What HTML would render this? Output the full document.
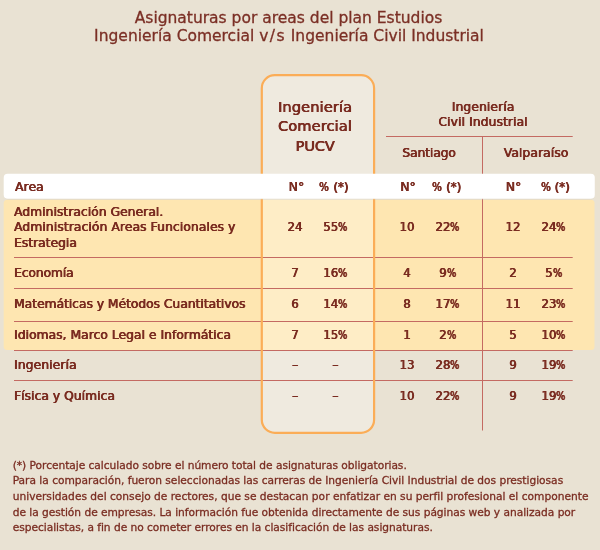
<!DOCTYPE html>
<html lang="es">
<head>
<meta charset="utf-8">
<title>Asignaturas por areas del plan Estudios</title>
<style>
html,body{margin:0;padding:0;}
body{width:600px;height:550px;position:relative;overflow:hidden;background:#e9e2d3;color:#7a2c21;
  font-family:"DejaVu Sans","Liberation Sans",sans-serif;}
.abs{position:absolute;}
.title{left:0;width:577px;top:9px;text-align:center;font-size:15.5px;line-height:18.25px;color:#7b2f25;white-space:nowrap;-webkit-text-stroke:0.3px #7b2f25;}
.b{font-family:"DejaVu Sans","Liberation Sans",sans-serif;font-weight:normal;text-shadow:0.5px 0 0 #7a2c21,-0.2px 0 0 #7a2c21;font-size:12.3px;letter-spacing:0.1px;white-space:nowrap;line-height:15.5px;}
.pc{display:inline-block;transform:scaleX(.84);transform-origin:0 50%;margin-right:-1.9px;}
.n{font-size:11.6px;letter-spacing:0.15px;text-shadow:0.55px 0 0 #7a2c21,-0.2px 0 0 #7a2c21;}
.c{text-align:center;width:60px;margin-left:-30px;}
.foot{left:12.7px;top:457.5px;-webkit-text-stroke:0.3px #7a2c21;font-size:10.65px;line-height:15.67px;white-space:nowrap;color:#7a2c21;}
</style>
</head>
<body>
<div class="abs title">Asignaturas por areas del plan Estudios</div>
<div class="abs title" style="top:27.25px;left:0.5px">Ingeniería Comercial <span style="letter-spacing:1.4px">v/s</span> Ingeniería Civil Industrial</div>

<svg class="abs" style="left:0;top:0" width="600" height="550" viewBox="0 0 600 550">
<rect x="3.7" y="199.7" width="590.8" height="150.3" rx="3.5" fill="#fee6b1"/>
<rect x="261.8" y="75.2" width="112.3" height="357.6" rx="13" fill="rgba(255,255,255,0.28)"/>
<g fill="#c46a62">
<rect x="14" y="257" width="558.7" height="1"/>
<rect x="14" y="288" width="558.7" height="1"/>
<rect x="14" y="321" width="558.7" height="1"/>
<rect x="14" y="350" width="558.7" height="1"/>
<rect x="14" y="380" width="558.7" height="1"/>
<rect x="386" y="136" width="186.7" height="1"/>
<rect x="482" y="136" width="1" height="294.5"/>
</g>
<rect x="261.8" y="75.2" width="112.3" height="357.6" rx="13" fill="none" stroke="#fbad57" stroke-width="2.2"/>
<rect x="4.2" y="175" width="590.1" height="24.6" rx="4" fill="#d9d0bc" opacity="0.6"/>
<rect x="3.7" y="173.7" width="591.1" height="25.1" rx="4" fill="#fff"/>
</svg>

<div class="abs b" style="left:255px;width:120px;top:98px;text-align:center;font-size:14.5px;letter-spacing:0.15px;line-height:19px;">Ingeniería<br>Comercial<br><span style="position:relative;top:1px;letter-spacing:-0.1px">PUCV</span></div>
<div class="abs b" style="left:423px;width:120px;top:99.5px;text-align:center;line-height:15.4px;">Ingeniería<br>Civil Industrial</div>
<div class="abs b c" style="left:429px;top:146px;letter-spacing:-0.1px;">Santiago</div>
<div class="abs b c" style="left:536px;top:146px;width:80px;margin-left:-40px;">Valparaíso</div>

<div class="abs b" style="left:15px;top:180px;">Area</div>
<div class="abs b c" style="left:296.4px;top:180px;">N°</div>
<div class="abs b c" style="left:333.75px;top:180px;"><span class="pc">%</span> <span style="letter-spacing:-0.3px">(*)</span></div>
<div class="abs b c" style="left:408px;top:180px;">N°</div>
<div class="abs b c" style="left:446.5px;top:180px;"><span class="pc">%</span> <span style="letter-spacing:-0.3px">(*)</span></div>
<div class="abs b c" style="left:513.5px;top:180px;">N°</div>
<div class="abs b c" style="left:555px;top:180px;"><span class="pc">%</span> <span style="letter-spacing:-0.3px">(*)</span></div>

<div class="abs b" style="left:14px;top:205px;letter-spacing:0.04px">Administración General.</div>
<div class="abs b" style="left:14px;top:220px;">Administración Areas Funcionales y</div>
<div class="abs b" style="left:14px;top:236px;letter-spacing:0px">Estrategia</div>
<div class="abs b c n" style="left:295px;top:220px;">24</div>
<div class="abs b c n" style="left:335.4px;top:220px;">55<span class="pc">%</span></div>
<div class="abs b c n" style="left:407px;top:220px;">10</div>
<div class="abs b c n" style="left:447.5px;top:220px;">22<span class="pc">%</span></div>
<div class="abs b c n" style="left:513px;top:220px;">12</div>
<div class="abs b c n" style="left:553.5px;top:220px;">24<span class="pc">%</span></div>

<div class="abs b" style="left:14px;top:266px;letter-spacing:-0.1px">Economía</div>
<div class="abs b c n" style="left:295px;top:266px;">7</div>
<div class="abs b c n" style="left:335.4px;top:266px;">16<span class="pc">%</span></div>
<div class="abs b c n" style="left:407px;top:266px;">4</div>
<div class="abs b c n" style="left:447.5px;top:266px;">9<span class="pc">%</span></div>
<div class="abs b c n" style="left:513px;top:266px;">2</div>
<div class="abs b c n" style="left:553.5px;top:266px;">5<span class="pc">%</span></div>

<div class="abs b" style="left:14px;top:297px;letter-spacing:-0.02px">Matemáticas y Métodos Cuantitativos</div>
<div class="abs b c n" style="left:295px;top:297px;">6</div>
<div class="abs b c n" style="left:335.4px;top:297px;">14<span class="pc">%</span></div>
<div class="abs b c n" style="left:407px;top:297px;">8</div>
<div class="abs b c n" style="left:447.5px;top:297px;">17<span class="pc">%</span></div>
<div class="abs b c n" style="left:513px;top:297px;">11</div>
<div class="abs b c n" style="left:553.5px;top:297px;">23<span class="pc">%</span></div>

<div class="abs b" style="left:14px;top:328px;letter-spacing:0.035px">Idiomas, Marco Legal e Informática</div>
<div class="abs b c n" style="left:295px;top:328px;">7</div>
<div class="abs b c n" style="left:335.4px;top:328px;">15<span class="pc">%</span></div>
<div class="abs b c n" style="left:407px;top:328px;">1</div>
<div class="abs b c n" style="left:447.5px;top:328px;">2<span class="pc">%</span></div>
<div class="abs b c n" style="left:513px;top:328px;">5</div>
<div class="abs b c n" style="left:553.5px;top:328px;">10<span class="pc">%</span></div>

<div class="abs b" style="left:14px;top:358px;">Ingeniería</div>
<div class="abs b c" style="left:295px;top:358px;">–</div>
<div class="abs b c" style="left:335.4px;top:358px;">–</div>
<div class="abs b c n" style="left:407px;top:358px;">13</div>
<div class="abs b c n" style="left:447.5px;top:358px;">28<span class="pc">%</span></div>
<div class="abs b c n" style="left:513px;top:358px;">9</div>
<div class="abs b c n" style="left:553.5px;top:358px;">19<span class="pc">%</span></div>

<div class="abs b" style="left:14px;top:389px;letter-spacing:0.04px">Física y Química</div>
<div class="abs b c" style="left:295px;top:389px;">–</div>
<div class="abs b c" style="left:335.4px;top:389px;">–</div>
<div class="abs b c n" style="left:407px;top:389px;">10</div>
<div class="abs b c n" style="left:447.5px;top:389px;">22<span class="pc">%</span></div>
<div class="abs b c n" style="left:513px;top:389px;">9</div>
<div class="abs b c n" style="left:553.5px;top:389px;">19<span class="pc">%</span></div>

<div class="abs foot" style="top:457.5px;letter-spacing:-0.036px">(*) Porcentaje calculado sobre el número total de asignaturas obligatorias.</div>
<div class="abs foot" style="top:473.2px;letter-spacing:-0.017px">Para la comparación, fueron seleccionadas las carreras de Ingeniería Civil Industrial de dos prestigiosas</div>
<div class="abs foot" style="top:488.8px;letter-spacing:0.000px">universidades del consejo de rectores, que se destacan por enfatizar en su perfil profesional el componente</div>
<div class="abs foot" style="top:504.5px;letter-spacing:-0.030px">de la gestión de empresas. La información fue obtenida directamente de sus páginas web y analizada por</div>
<div class="abs foot" style="top:520.2px;letter-spacing:-0.032px">especialistas, a fin de no cometer errores en la clasificación de las asignaturas.</div>
</body>
</html>
